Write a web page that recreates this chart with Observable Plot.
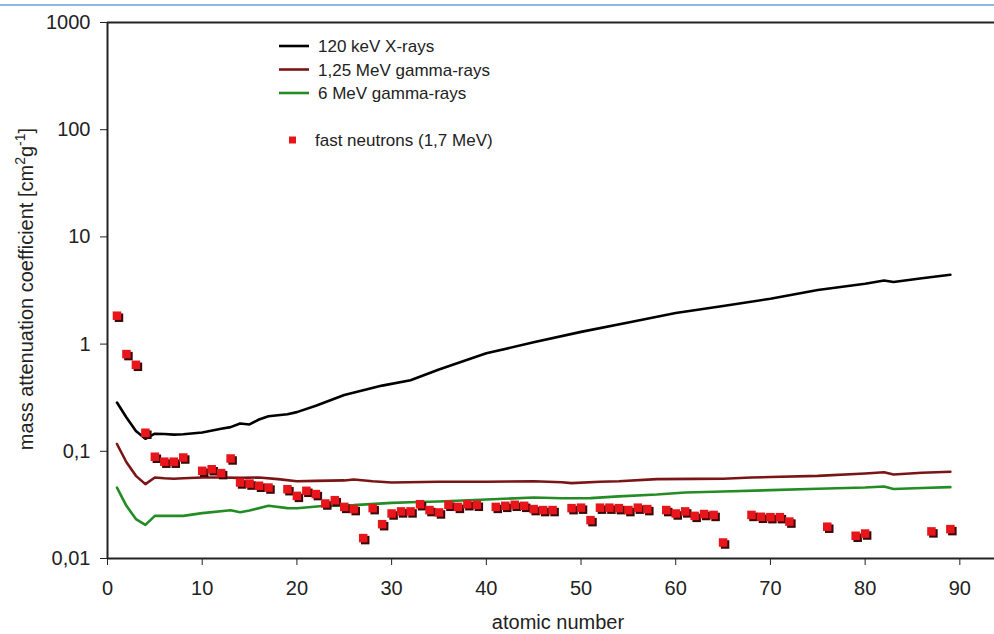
<!DOCTYPE html>
<html><head><meta charset="utf-8">
<script src="https://cdn.jsdelivr.net/npm/d3@7"></script>
<script src="https://cdn.jsdelivr.net/npm/@observablehq/plot@0.6"></script>
<style>
html,body{margin:0;padding:0;background:#fff;}
#wrap{position:relative;width:994px;height:634px;overflow:hidden;background:#fff;}
#wrap svg{display:block;position:absolute;left:0;top:0;}
#topline{position:absolute;left:0;top:4px;width:994px;height:2px;background:#8db8e3;z-index:2;}
</style></head><body><div id="wrap"><div id="topline"></div></div>
<script>
// ---- data ----
const seriesNames = ["120 keV X-rays", "1,25 MeV gamma-rays", "6 MeV gamma-rays", "fast neutrons (1,7 MeV)"];

const xrayZ  = [1,2,3,4,5,6,7,8,10,12,13,14,15,16,17,19,20,22,25,29,32,35,40,45,50,55,60,65,70,75,80,82,83,86,89];
const xrayMu = [0.285,0.207,0.155,0.131,0.146,0.145,0.143,0.144,0.150,0.162,0.168,0.182,0.178,0.198,0.212,0.222,0.232,0.266,0.335,0.41,0.46,0.58,0.82,1.04,1.30,1.59,1.95,2.27,2.65,3.2,3.66,3.92,3.8,4.12,4.43];

const gamma125Z  = [1,2,3,4,5,6,7,8,10,12,14,16,18,20,22,25,26,28,30,35,40,45,48,49,52,54,58,62,65,68,70,75,80,82,83,86,89];
const gamma125Mu = [0.117,0.079,0.059,0.0494,0.057,0.056,0.0555,0.056,0.057,0.057,0.0565,0.057,0.055,0.0525,0.053,0.0535,0.0545,0.0525,0.0512,0.052,0.052,0.0525,0.0515,0.0505,0.052,0.0525,0.055,0.0553,0.0555,0.057,0.0575,0.059,0.062,0.0638,0.0608,0.063,0.0645];

const gamma6Z  = [1,2,3,4,5,6,8,10,13,14,15,17,19,20,23,26,30,32,35,40,45,48,51,54,58,61,65,70,75,80,82,83,86,89];
const gamma6Mu = [0.0459,0.031,0.0233,0.0206,0.025,0.025,0.025,0.0265,0.0282,0.027,0.028,0.031,0.0295,0.0294,0.031,0.0315,0.033,0.0335,0.034,0.0355,0.0371,0.0365,0.0366,0.038,0.0395,0.0413,0.0422,0.0434,0.0447,0.046,0.0470,0.0445,0.0455,0.0463];

const neutronZ  = [1,2,3,4,5,6,7,8,10,11,12,13,14,15,16,17,19,20,21,22,23,24,25,26,27,28,29,30,31,32,33,34,35,36,37,38,39,41,42,43,44,45,46,47,49,50,51,52,53,54,55,56,57,59,60,61,62,63,64,65,68,69,70,71,72,76,79,80,87,89];
const neutronMu = [1.84,0.807,0.641,0.149,0.089,0.080,0.080,0.0875,0.0658,0.068,0.0626,0.0857,0.0512,0.050,0.0477,0.0459,0.0443,0.0384,0.0428,0.0399,0.0326,0.0350,0.0303,0.0289,0.0155,0.0295,0.0209,0.0263,0.0275,0.0275,0.0321,0.0283,0.0269,0.0317,0.0303,0.0321,0.0317,0.0303,0.031,0.0317,0.031,0.0289,0.0283,0.0283,0.0295,0.0298,0.0228,0.0298,0.0298,0.0295,0.0283,0.0298,0.0289,0.0283,0.0263,0.0275,0.025,0.026,0.0255,0.0141,0.0255,0.0245,0.0243,0.0243,0.0221,0.0198,0.0163,0.0171,0.0179,0.0188];

const xTicks = [0,10,20,30,40,50,60,70,80,90];
const xTickLabels = ["0","10","20","30","40","50","60","70","80","90"];
const yTicks = [0.01,0.1,1,10,100,1000];
const yTickLabels = ["0,01","0,1","1","10","100","1000"];
const xTitle = "atomic number";

// ---- styling ----
const colors = ["#000000", "#7a1515", "#248c24", "#e8161a"];
const font = "'Liberation Sans', Arial, sans-serif";

const rows = (zs, vs) => zs.map((z, i) => ({z, v: vs[i]}));
const xray = rows(xrayZ, xrayMu);
const g125 = rows(gamma125Z, gamma125Mu);
const g6 = rows(gamma6Z, gamma6Mu);
const neutrons = rows(neutronZ, neutronMu);

const plot = Plot.plot({
  width: 994,
  height: 634,
  marginLeft: 107,
  marginRight: 0,
  marginTop: 22,
  marginBottom: 76,
  style: {fontFamily: font, fontSize: "20px", color: "#222", background: "transparent", overflow: "visible"},
  x: {domain: [0, 93.66], ticks: xTicks, tickFormat: d => xTickLabels[xTicks.indexOf(d)], tickSize: 7, tickPadding: 15, label: null},
  y: {type: "log", domain: [0.01, 1000], ticks: yTicks, tickFormat: d => yTickLabels[yTicks.indexOf(d)], tickSize: 7, tickPadding: 10, label: null},
  marks: [
    Plot.line(g6, {x: "z", y: "v", stroke: colors[2], strokeWidth: 2.6}),
    Plot.line(g125, {x: "z", y: "v", stroke: colors[1], strokeWidth: 2.6}),
    Plot.line(xray, {x: "z", y: "v", stroke: colors[0], strokeWidth: 2.6}),
    Plot.dot(neutrons, {x: "z", y: "v", symbol: "square", r: 4.8, fill: "#3a0808", dx: 2, dy: 2}),
    Plot.dot(neutrons, {x: "z", y: "v", symbol: "square", r: 4.8, fill: colors[3]}),
    Plot.ruleX([0], {stroke: "#222", strokeWidth: 2}),
    Plot.ruleY([0.01, 1000], {stroke: "#222", strokeWidth: 2})
  ]
});
document.getElementById("wrap").appendChild(plot);

// ---- titles & legend ----
const svg = d3.select(plot);
svg.append("text")
  .attr("x", 558).attr("y", 629)
  .attr("text-anchor", "middle")
  .attr("font-family", font).attr("font-size", 20).attr("fill", "#222")
  .text(xTitle);

const yt = svg.append("text")
  .attr("transform", "translate(33,289) rotate(-90)")
  .attr("text-anchor", "middle")
  .attr("font-family", font).attr("font-size", 20).attr("fill", "#222");
yt.append("tspan").text("mass attenuation coefficient [cm");
yt.append("tspan").attr("font-size", 14).attr("dy", -8).text("2");
yt.append("tspan").attr("dy", 8).text("g");
yt.append("tspan").attr("font-size", 14).attr("dy", -8).text("-1");
yt.append("tspan").attr("dy", 8).text("]");

const lg = svg.append("g").attr("font-family", font).attr("font-size", 17).attr("fill", "#222").attr("text-anchor", "start");
const rowY = [46, 69.5, 93];
for (let i = 0; i < 3; i++) {
  lg.append("line").attr("x1", 279).attr("x2", 309).attr("y1", rowY[i]).attr("y2", rowY[i])
    .attr("stroke", colors[i]).attr("stroke-width", 2.6);
  lg.append("text").attr("x", 318).attr("y", rowY[i] + 6).attr("text-anchor", "start").text(seriesNames[i]);
}
lg.append("rect").attr("x", 289).attr("y", 136.5).attr("width", 7).attr("height", 7).attr("fill", colors[3]);
lg.append("text").attr("x", 315).attr("y", 146).attr("text-anchor", "start").text(seriesNames[3]);
</script></body></html>
